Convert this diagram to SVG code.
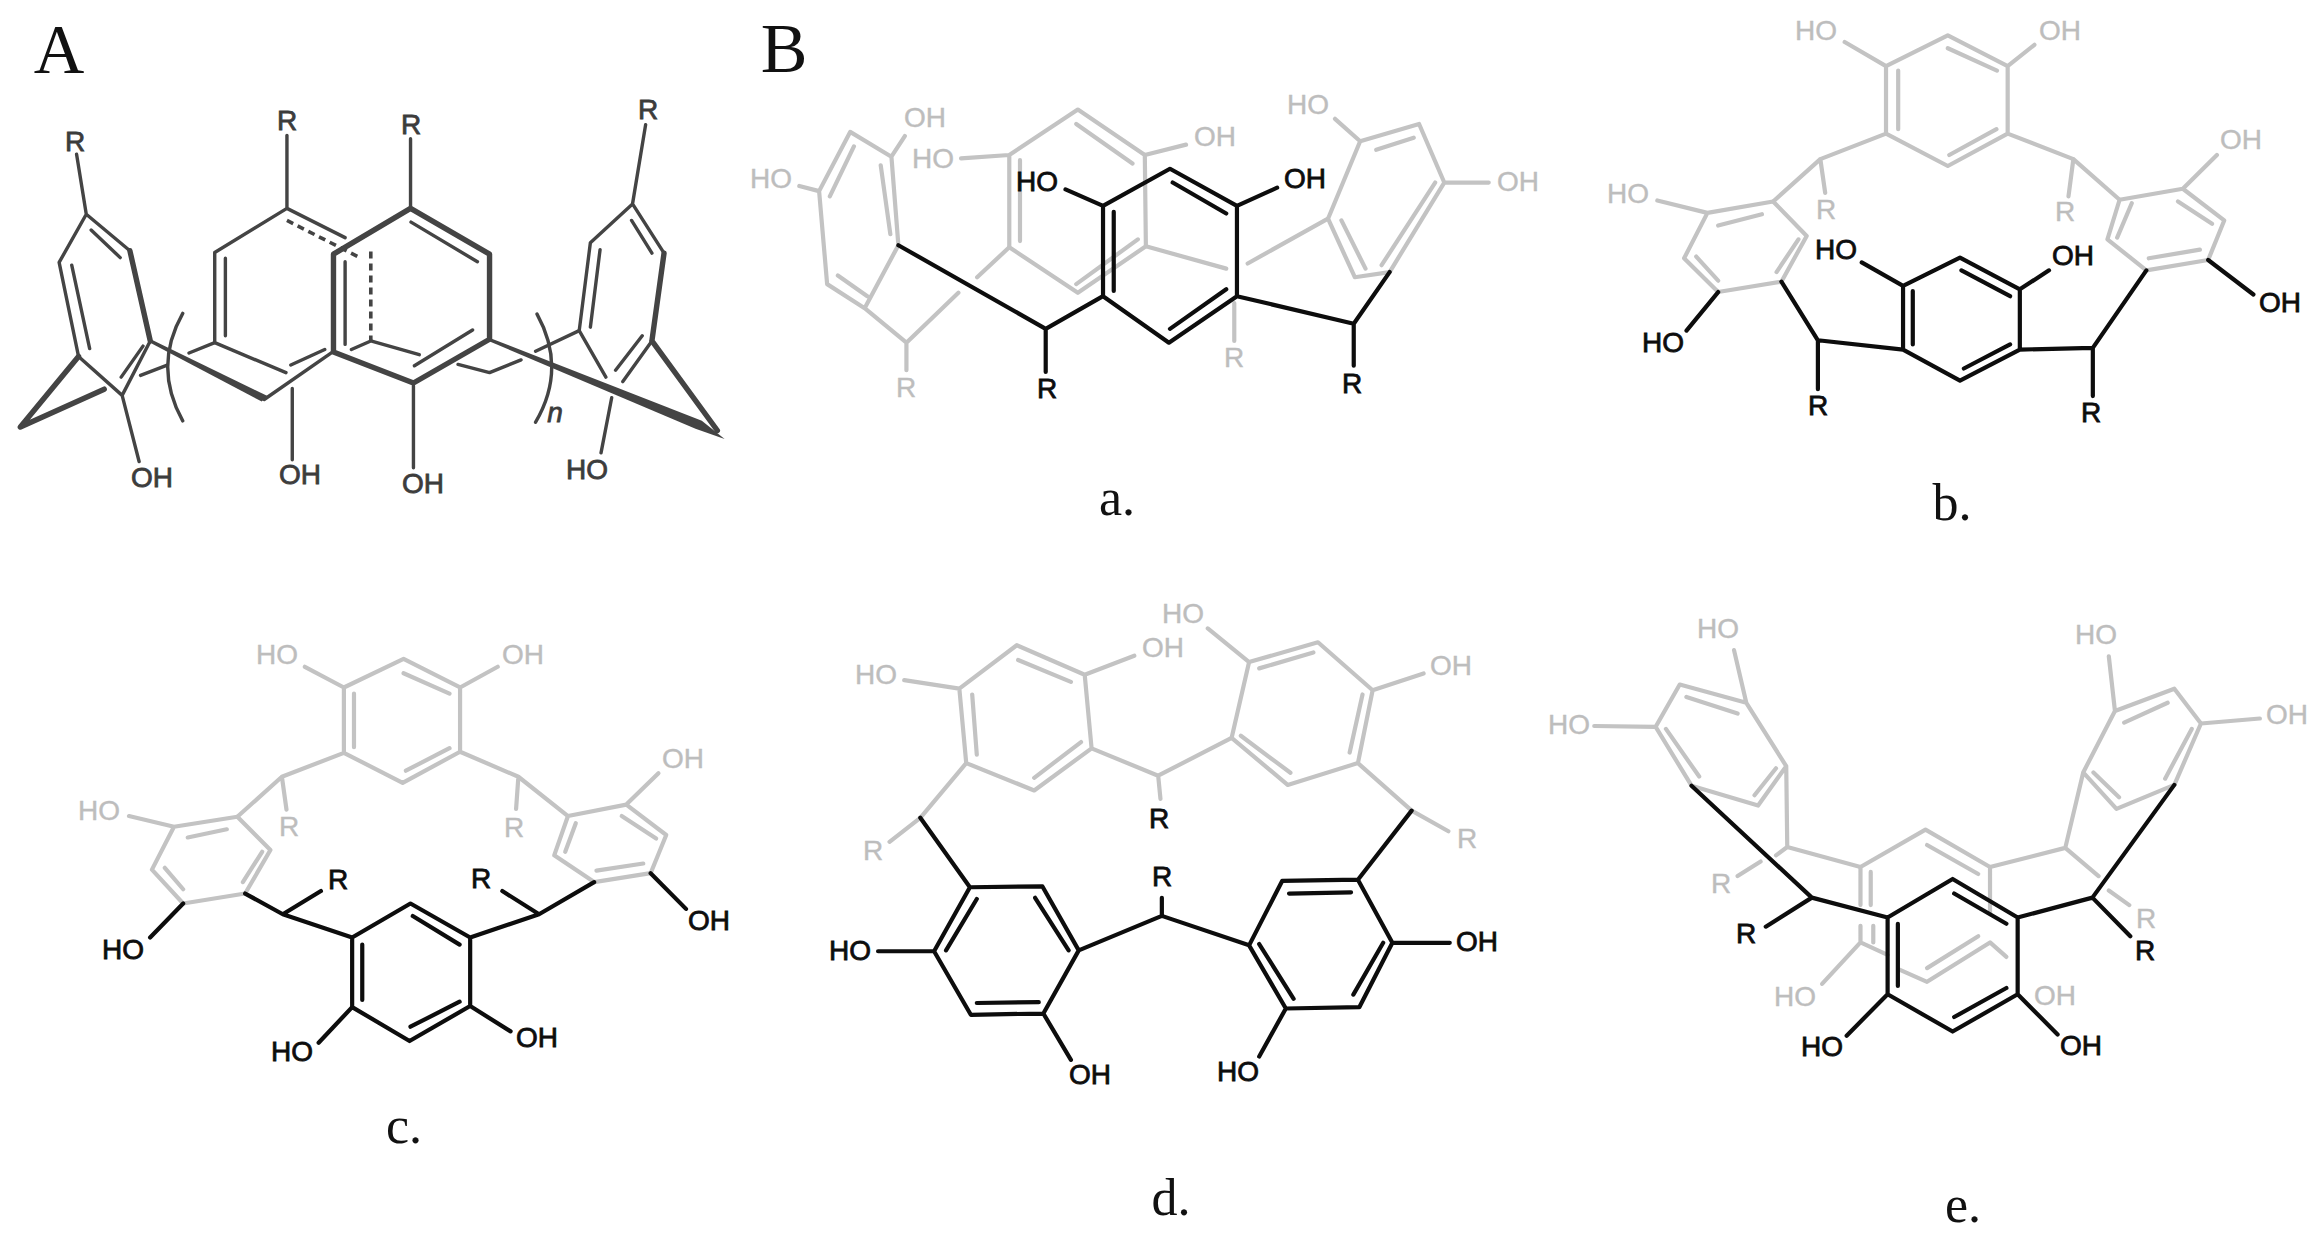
<svg xmlns="http://www.w3.org/2000/svg" width="2323" height="1240" viewBox="0 0 2323 1240">
<style>
.k,.g,.d,.t,.m,.h{fill:none;stroke-linecap:round;stroke-linejoin:round;vector-effect:non-scaling-stroke}
.k{stroke:#0d0d0d;stroke-width:4.2}
.g{stroke:#c3c3c3;stroke-width:4.2}
.d{stroke:#444;stroke-width:3.4}
.m{stroke:#444;stroke-width:5.4}
.h{stroke:#444;stroke-width:3.6;stroke-dasharray:7 5;stroke-linecap:butt}
.w{fill:#444}
text{font-family:"Liberation Sans",Arial,sans-serif;font-size:28px;text-anchor:middle}
.tk{fill:#0d0d0d;stroke:#0d0d0d;stroke-width:.8}
.tg{fill:#bdbdbd;stroke:#bdbdbd;stroke-width:.4}
.td{fill:#3c3c3c;stroke:#3c3c3c;stroke-width:.8}
.s{font-family:"Liberation Serif","Times New Roman",serif;fill:#111}
.big{font-size:70px}
.sub{font-size:52px}
</style>
<rect width="2323" height="1240" fill="#fff"/>

<g id="panel-A">
<g transform="scale(.4847,.3444)">
<path class="d" d="M178,622L268,728M178,622L122,762L162,1035L252,1148L310,990M188,668L248,748M148,770L185,1012M250,1095L295,1005M158,448L178,622M252,1148L287,1340"/>
<path class="m" d="M268,728L310,990M162,1035L42,1240L215,1130"/>
<polygon class="w" points="312,986 552,1150 540,1166 308,994"/>
<path class="d" d="M290,1090L345,1060M390,1025L443,995M545,1160L688,1020M592,605L443,733L443,995L590,1082M465,750L465,975M600,1060L670,1015M725,1015L765,990L865,1030M592,605L712,690M592,393L592,605M847,403L847,605"/>
<path class="h" d="M592,640L745,750M765,730L765,990"/>
<path class="m" d="M847,605L1010,738L1010,985L853,1112L688,1022L688,738Z"/>
<path class="d" d="M848,645L985,760M975,958L855,1062M712,760L712,1000M603,1128L603,1335M853,1120L853,1358M1262,1155L1240,1315M377,910Q315,1065 377,1222M1108,912Q1170,1070 1105,1226M945,1058L1010,1082L1075,1045M1105,1020L1195,960"/>
<polygon class="w" points="1012,982 1448,1222 1495,1275 1435,1245 1008,990"/>
<path class="m" d="M1345,990L1480,1250M1345,990L1370,735"/>
<path class="d" d="M1305,592L1218,705L1195,960L1250,1095M1345,990L1285,1108M1305,592L1370,735M1303,640L1345,735M1238,725L1218,950M1325,975L1270,1075M1332,362L1305,592"/>
</g>
<text class="s big" x="59" y="73">A</text>
<text class="td" x="75" y="151">R</text><text class="td" x="287" y="130">R</text><text class="td" x="411" y="134">R</text><text class="td" x="648" y="119">R</text>
<text class="td" x="152" y="487">OH</text><text class="td" x="300" y="484">OH</text><text class="td" x="423" y="493">OH</text><text class="td" x="587" y="479">HO</text>
<text class="td" x="555" y="422" font-style="italic">n</text>
</g>

<g id="panel-a">
<g transform="translate(720,0) scale(.5357,.3444)">
<path class="g" d="M243,383L320,455L333,712L270,895L200,825L185,555ZM270,895L348,995M300,480L318,680M250,425L205,570M220,800L275,860M320,455L345,395M185,555L148,540M348,995L348,1075M348,995L445,850M480,805L540,718"/>
<path class="g" d="M668,318L793,450L795,715L668,850L540,718L540,450ZM665,360L770,475M560,465L560,700M665,825L780,695M540,450L450,460M793,450L870,420M795,715L945,780M985,765L1135,635M960,880L960,990"/>
<path class="g" d="M1195,410L1305,360L1352,530L1250,790L1185,805L1135,635ZM1225,435L1295,400M1335,530L1235,770M1160,640L1205,780M1195,410L1148,345M1352,530L1435,530"/>
<path class="k" d="M840,490L965,598L965,860L838,995L715,860L715,598ZM845,530L945,620M945,840L840,955M735,615L735,845M715,598L645,550M965,598L1040,545M333,712L608,955L715,860M608,955L608,1080M965,860L1183,940L1250,790M1183,940L1183,1062"/>
</g>
<text class="s big" x="784" y="72">B</text>
<text class="tg" x="925" y="127">OH</text><text class="tg" x="771" y="188">HO</text><text class="tg" x="933" y="168">HO</text><text class="tg" x="1215" y="146">OH</text><text class="tg" x="1308" y="114">HO</text><text class="tg" x="1518" y="191">OH</text><text class="tg" x="906" y="397">R</text><text class="tg" x="1234" y="367">R</text>
<text class="tk" x="1037" y="191">HO</text><text class="tk" x="1305" y="188">OH</text><text class="tk" x="1047" y="398">R</text><text class="tk" x="1352" y="393">R</text>
<text class="s sub" x="1117" y="515">a.</text>
</g>

<g id="panel-b">
<g transform="translate(1560,0) scale(.4866,.3444)">
<path class="g" d="M797,103L920,192L920,388L797,482L670,388L670,192ZM797,140L898,205M695,205L695,375M897,375L800,450M670,192L585,122M920,192L975,130M670,388L535,462L438,585M920,388L1055,462L1150,580M535,462L545,560M1055,462L1045,570"/>
<path class="g" d="M438,585L303,618L255,750L325,848L455,818L507,685ZM415,622L325,655M280,745L325,815M490,695L445,790M303,618L200,582"/>
<path class="g" d="M1150,580L1280,548L1365,640L1332,755L1205,785L1125,695ZM1270,585L1340,650M1315,725L1210,750M1175,590L1145,690M1280,548L1350,450"/>
<path class="k" d="M822,748L945,840L945,1015L822,1105L705,1015L705,830ZM825,785L925,860M925,1000L830,1070M725,845L725,1000M705,830L620,762M945,840L1005,785M455,818L530,988L705,1015M530,988L530,1130M325,848L260,960M945,1015L1095,1010L1205,785M1095,1010L1095,1150M1332,755L1425,855"/>
</g>
<text class="tg" x="1816" y="40">HO</text><text class="tg" x="2060" y="40">OH</text><text class="tg" x="1628" y="203">HO</text><text class="tg" x="1826" y="219">R</text><text class="tg" x="2065" y="221">R</text><text class="tg" x="2241" y="149">OH</text>
<text class="tk" x="1836" y="259">HO</text><text class="tk" x="2073" y="265">OH</text><text class="tk" x="1663" y="352">HO</text><text class="tk" x="1818" y="415">R</text><text class="tk" x="2091" y="422">R</text><text class="tk" x="2280" y="312">OH</text>
<text class="s sub" x="1952" y="520">b.</text>
</g>

<g id="panel-c">
<g transform="translate(50,600) scale(.4592,.3571)">
<path class="g" d="M770,165L893,245L893,425L768,512L640,428L640,245ZM770,205L870,262M662,262L662,412M870,415L775,478M640,245L555,187M893,245L975,187M640,428L505,495L408,607M893,425L1020,495L1128,605M505,495L515,587M1020,495L1015,585"/>
<path class="g" d="M408,607L270,635L222,755L290,850L425,822L480,700ZM385,642L300,665M250,750L290,810M462,705L420,790M270,635L172,605"/>
<path class="g" d="M1128,605L1255,573L1342,658L1308,765L1185,790L1098,715ZM1245,605L1320,668M1292,738L1190,758M1122,705L1145,625M1255,573L1325,485"/>
<path class="k" d="M785,850L915,945L915,1137L783,1235L658,1140L658,945ZM790,885L892,965M892,1125L785,1195M680,965L680,1120M425,822L507,880L658,945M507,880L590,815M1185,790L1065,880L915,945M1065,880L985,815M290,850L218,945M1308,765L1385,865M658,1140L585,1240M915,1137L1003,1208"/>
</g>
<text class="tg" x="277" y="664">HO</text><text class="tg" x="523" y="664">OH</text><text class="tg" x="99" y="820">HO</text><text class="tg" x="289" y="836">R</text><text class="tg" x="514" y="837">R</text><text class="tg" x="683" y="768">OH</text>
<text class="tk" x="338" y="889">R</text><text class="tk" x="481" y="888">R</text><text class="tk" x="123" y="959">HO</text><text class="tk" x="709" y="930">OH</text><text class="tk" x="292" y="1061">HO</text><text class="tk" x="537" y="1047">OH</text>
<text class="s sub" x="404" y="1143">c.</text>
</g>

<g id="panel-d">
<g transform="translate(800,580) scale(.4592,.4209)">
<path class="g" d="M472,155L620,225L635,400L510,500L362,435L347,258ZM475,190L590,242M375,272L385,415M612,385L510,470M347,258L227,238M620,225L728,180M635,400L780,465L940,375M780,465L785,520M362,435L262,565L195,622"/>
<path class="g" d="M1128,148L1247,262L1215,435L1062,487L940,375L978,195ZM1000,210L1118,172M1225,272L1197,410M960,370L1068,458M978,195L888,115M1247,262L1358,222M1215,435L1332,548L1412,597"/>
<path class="k" d="M262,565L370,730M1332,548L1215,712M370,730L528,728L607,880L530,1030L372,1033L292,882ZM385,758L318,880M512,755L585,880M385,1005L520,1003M292,882L170,882M530,1030L590,1140M1215,712L1290,862L1218,1015L1058,1018L978,868L1050,715ZM1065,745L1200,742M1270,862L1205,985M1000,865L1075,995M1290,862L1415,862M1058,1018L1000,1132M607,880L788,798L978,868M788,798L788,755"/>
</g>
<text class="tg" x="876" y="684">HO</text><text class="tg" x="1163" y="657">OH</text><text class="tg" x="1183" y="623">HO</text><text class="tg" x="1451" y="675">OH</text><text class="tg" x="873" y="860">R</text><text class="tg" x="1467" y="848">R</text>
<text class="tk" x="1159" y="828">R</text><text class="tk" x="1162" y="886">R</text><text class="tk" x="850" y="960">HO</text><text class="tk" x="1477" y="951">OH</text><text class="tk" x="1090" y="1084">OH</text><text class="tk" x="1238" y="1081">HO</text>
<text class="s sub" x="1171" y="1215">d.</text>
</g>

<g id="panel-e">
<g transform="translate(1520,590) scale(.512,.4146)">
<path class="g" d="M312,228L442,272L520,425L465,520L335,472L265,330ZM325,258L425,298M500,430L458,495M285,335L350,450M442,272L418,145M265,330L145,328M520,425L522,620L665,668M522,620L500,640M470,655L425,690"/>
<path class="g" d="M1278,238L1330,322L1278,470L1165,528L1100,440L1162,292ZM1180,320L1265,272M1312,335L1260,455M1120,440L1170,500M1162,292L1150,160M1330,322L1445,310M1100,440L1065,622L918,668M1065,622L1130,690M1150,725L1190,760"/>
<path class="g" d="M665,760L665,668L792,578L918,668L918,780M795,615L895,685M685,680L685,760M665,810L665,850L718,880M690,810L690,850M665,850L590,950M740,915L795,945L918,850L950,885M895,835L795,912"/>
<path class="k" d="M845,697L972,790L972,975L845,1065L718,975L718,790ZM848,732L950,805M950,960L848,1030M738,805L738,955M335,472L570,742L718,790M570,742L480,812M1278,470L1118,742L972,790M1118,742L1192,835M718,975L638,1075M972,975L1050,1072"/>
</g>
<text class="tg" x="1718" y="638">HO</text><text class="tg" x="1569" y="734">HO</text><text class="tg" x="2096" y="644">HO</text><text class="tg" x="2287" y="724">OH</text><text class="tg" x="1721" y="893">R</text><text class="tg" x="2146" y="928">R</text><text class="tg" x="1795" y="1006">HO</text><text class="tg" x="2055" y="1005">OH</text>
<text class="tk" x="1746" y="943">R</text><text class="tk" x="2145" y="960">R</text><text class="tk" x="1822" y="1056">HO</text><text class="tk" x="2081" y="1055">OH</text>
<text class="s sub" x="1963" y="1222">e.</text>
</g>
</svg>
